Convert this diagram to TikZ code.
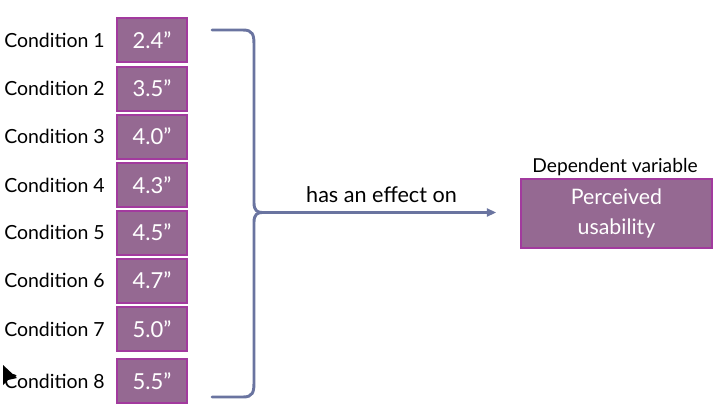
\documentclass[tikz,border=0pt]{standalone}
\usepackage{fontspec}
\setmainfont{Lato}
\usetikzlibrary{arrows.meta}
\definecolor{boxfill}{HTML}{956992}
\definecolor{boxline}{HTML}{A23A9E}
\definecolor{bracecol}{HTML}{6A74A0}
\tikzset{
  valbox/.style={draw=boxline, fill=boxfill, line width=1.5pt, minimum width=52.5pt, minimum height=33pt, inner sep=0pt, text=white, font=\fontsize{16.5}{18}\selectfont},
  condlabel/.style={anchor=west, inner sep=0pt, font=\fontsize{14.6}{16}\selectfont},
  bracestyle/.style={draw=bracecol, line width=2.2pt, line cap=round},
  effarrow/.style={draw=bracecol, line width=2.2pt, -{Triangle[length=7pt,width=6pt]}}
}
\begin{document}
\begin{tikzpicture}[x=0.75pt,y=-0.75pt]
\useasboundingbox (0,0) rectangle (723,407);
% value boxes
\node[valbox] (b1) at (152,40) {2.4”};
\node[valbox] (b2) at (152,88.5) {3.5”};
\node[valbox] (b3) at (152,136.5) {4.0”};
\node[valbox] (b4) at (152,185) {4.3”};
\node[valbox] (b5) at (152,232.5) {4.5”};
\node[valbox] (b6) at (152,280.5) {4.7”};
\node[valbox] (b7) at (152,329) {5.0”};
\node[valbox] (b8) at (152,381) {5.5”};
% condition labels
\node[condlabel] (c1) at (4,40) {Condition 1};
\node[condlabel] (c2) at (4,88.5) {Condition 2};
\node[condlabel] (c3) at (4,136.5) {Condition 3};
\node[condlabel] (c4) at (4,185) {Condition 4};
\node[condlabel] (c5) at (4,232.5) {Condition 5};
\node[condlabel] (c6) at (4,280.5) {Condition 6};
\node[condlabel] (c7) at (4,329) {Condition 7};
\node[condlabel] (c8) at (4,381) {Condition 8};
% brace
\coordinate (tip) at (262,212.5);
\path[bracestyle] (212,30) -- (243,30) .. controls (253,30) and (254,35) .. (254,45)
  -- (254,203) .. controls (254,210) and (257,212.5) .. (tip);
\path[bracestyle] (212,397) -- (243,397) .. controls (253,397) and (254,392) .. (254,382)
  -- (254,222) .. controls (254,215) and (257,212.5) .. (tip);
% dependent variable
\node[draw=boxline, fill=boxfill, line width=1.5pt, minimum width=143pt, minimum height=51.5pt, inner sep=0pt, text=white, align=center, font=\fontsize{16}{22}\selectfont] (pv) at (616.5,213.5) {Perceived\\usability};
\node[font=\fontsize{14.4}{16}\selectfont, anchor=base] (dv) at (615,172) {Dependent variable};
% arrow
\draw[effarrow, shorten >=18pt] (tip) -- (tip -| pv.west);
\node[font=\fontsize{16.2}{18}\selectfont] (eff) at (381.5,195) {has an effect on};
% cursor
\fill[black] (3,365) -- (3,385) -- (8,380) -- (17,378) -- cycle;
\end{tikzpicture}
\end{document}
